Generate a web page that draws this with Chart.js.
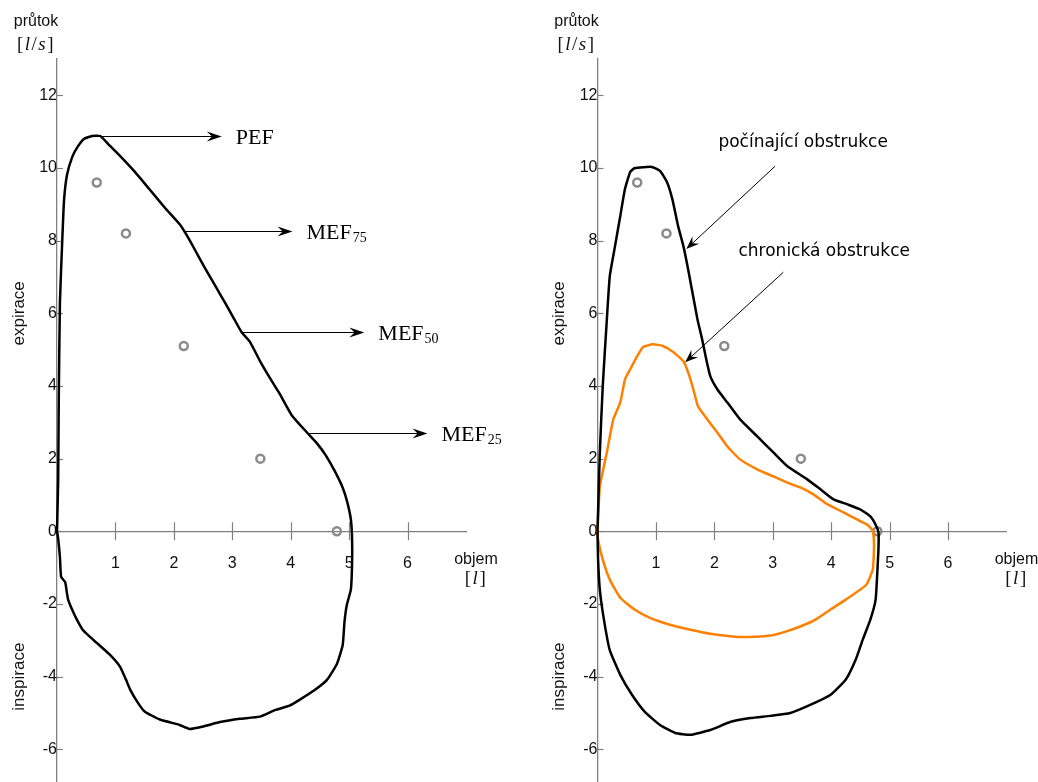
<!DOCTYPE html>
<html><head><meta charset="utf-8">
<script src="https://cdn.jsdelivr.net/npm/chart.js@4/dist/chart.umd.min.js"></script>
<style>
html,body{margin:0;padding:0;background:#fff;}
#wrap{position:relative;width:1038px;height:782px;overflow:hidden;}
canvas{position:absolute;top:0;}
</style></head><body>
<div id="wrap">
<canvas id="c1" width="519" height="782" style="left:0"></canvas>
<canvas id="c2" width="519" height="782" style="left:519px"></canvas>
</div>
<script>
// ---------- data ----------
const xTickValues = [1, 2, 3, 4, 5, 6];
const yTickValues = [-6, -4, -2, 0, 2, 4, 6, 8, 10, 12];

// normal flow-volume loop (left panel)
const normalX = [0,0.02,0.03,0.05,0.09,0.12,0.17,0.26,0.36,0.46,0.6,0.74,0.9,1.07,1.33,1.59,1.85,2.1,2.22,2.36,2.53,2.7,2.87,3.03,3.16,3.3,3.47,3.64,3.81,4.02,4.29,4.45,4.6,4.75,4.89,4.97,5.03,5.05,5.05,5.03,4.96,4.92,4.89,4.79,4.62,4.41,4.15,3.98,3.73,3.47,3.13,2.79,2.53,2.27,2.1,1.76,1.5,1.38,1.25,1.18,1.08,0.9,0.68,0.56,0.44,0.34,0.26,0.19,0.17,0.14,0.07,0.05,0.02,0];
const normalY = [0,1.4,3.6,6.3,8.0,9.1,9.8,10.3,10.6,10.8,10.88,10.88,10.62,10.35,9.9,9.4,8.9,8.45,8.15,7.75,7.25,6.78,6.31,5.85,5.48,5.22,4.7,4.23,3.79,3.19,2.7,2.42,2.09,1.67,1.2,0.79,0.32,-0.2,-0.9,-1.6,-2.03,-2.5,-3.13,-3.65,-4.09,-4.37,-4.64,-4.8,-4.92,-5.1,-5.16,-5.25,-5.36,-5.44,-5.33,-5.18,-4.96,-4.71,-4.35,-4.08,-3.73,-3.39,-3.07,-2.9,-2.71,-2.43,-2.16,-1.88,-1.7,-1.4,-1.25,-0.7,-0.2,0];

// incipient obstruction (right panel, black)
const earlyX = [0,0.04,0.09,0.16,0.21,0.3,0.39,0.47,0.56,0.64,0.93,1.07,1.19,1.28,1.38,1.47,1.55,1.71,1.79,1.86,1.93,2.05,2.22,2.44,2.73,3.01,3.25,3.59,3.82,4.04,4.28,4.5,4.67,4.76,4.81,4.81,4.8,4.76,4.67,4.54,4.42,4.25,3.99,3.64,3.3,2.96,2.62,2.27,1.93,1.59,1.33,1.07,0.81,0.59,0.39,0.21,0.11,0.04,0.01,0];
const earlyY = [0,2.17,4.0,5.83,7.02,7.85,8.68,9.42,9.89,10.0,10.03,9.92,9.61,9.15,8.4,7.85,7.22,5.84,5.29,4.74,4.27,3.91,3.55,3.08,2.62,2.17,1.79,1.43,1.15,0.88,0.74,0.6,0.41,0.18,-0.04,-0.42,-0.78,-1.88,-2.43,-2.98,-3.53,-4.08,-4.5,-4.78,-5.0,-5.08,-5.14,-5.25,-5.47,-5.6,-5.55,-5.33,-4.97,-4.5,-3.95,-3.27,-2.43,-1.61,-0.78,0];

// chronic obstruction (right panel, orange)
const chronicX = [0,0.04,0.16,0.27,0.39,0.47,0.56,0.68,0.78,0.95,1.12,1.3,1.47,1.55,1.64,1.72,1.88,2.05,2.22,2.44,2.74,3.01,3.25,3.48,3.7,3.94,4.21,4.45,4.62,4.71,4.73,4.73,4.71,4.6,4.25,3.99,3.73,3.47,3.22,2.96,2.7,2.36,1.93,1.59,1.24,0.9,0.64,0.39,0.21,0.09,0.01,0];
const chronicY = [0,1.23,2.17,3.08,3.55,4.18,4.46,4.82,5.07,5.15,5.1,4.93,4.68,4.38,3.91,3.44,3.08,2.72,2.34,1.98,1.7,1.51,1.34,1.2,1.01,0.74,0.52,0.32,0.18,0.02,-0.23,-0.59,-1.06,-1.47,-1.88,-2.15,-2.43,-2.62,-2.76,-2.87,-2.9,-2.9,-2.82,-2.71,-2.57,-2.38,-2.16,-1.83,-1.33,-0.78,-0.23,0];

// predicted (reference) values: gray circles
const predX = [0.68, 1.18, 2.17, 3.48, 4.79];
const predY = [9.6, 8.2, 5.1, 2.0, 0];

// left panel annotations (PEF, MEF75, MEF50, MEF25)
const mefNames = ['PEF', 'MEF', 'MEF', 'MEF'];
const mefSubs = ['', '75', '50', '25'];
const mefY = [10.88, 8.26, 5.48, 2.70];
const mefFromX = [0.74, 2.19, 3.16, 4.29];
const mefToX = [2.82, 4.03, 5.26, 6.34];

// right panel annotations
const obstrNames = ['počínající obstrukce', 'chronická obstrukce'];
const obstrTextX = [3.52, 3.88];
const obstrTextY = [10.69, 7.71];
const obstrFromX = [3.04, 3.18];
const obstrFromY = [10.05, 7.13];
const obstrToX = [1.52, 1.50];
const obstrToY = [7.77, 4.65];

// ---------- styling ----------
const AXIS = '#808080';
const SANS = '"Liberation Sans", Arial, sans-serif';
const SERIF = '"Liberation Serif", "Times New Roman", serif';
const ANNOT = '"DejaVu Sans", Verdana, sans-serif';

function pts(xs, ys) { return xs.map((x, i) => ({x: x, y: ys[i]})); }

function loopDs(xs, ys, color) {
  return {data: pts(xs, ys), showLine: true, borderColor: color, borderWidth: 2.5,
    pointRadius: 0, tension: 0.15, fill: false, clip: false};
}
function predDs() {
  return {data: pts(predX, predY), showLine: false, pointRadius: 4, pointBorderWidth: 2.5,
    pointBorderColor: '#8a8a8a', pointBackgroundColor: 'rgba(255,255,255,0)', clip: false};
}

function arrowHead(ctx, tx, ty, ang, L, W) {
  const dx = Math.cos(ang), dy = Math.sin(ang);
  const px = -dy, py = dx;
  ctx.beginPath();
  ctx.moveTo(tx, ty);
  ctx.lineTo(tx - L * dx + W * px, ty - L * dy + W * py);
  ctx.lineTo(tx - 0.65 * L * dx, ty - 0.65 * L * dy);
  ctx.lineTo(tx - L * dx - W * px, ty - L * dy - W * py);
  ctx.closePath();
  ctx.fill();
}

function drawMath(ctx, parts, cx, cy, size) {
  let total = 0;
  const widths = parts.map(p => {
    ctx.font = (p[1] ? 'italic ' : '') + size + 'px ' + SERIF;
    const w = ctx.measureText(p[0]).width + 1.5;
    total += w; return w;
  });
  let x = cx - total / 2;
  ctx.textAlign = 'left'; ctx.textBaseline = 'middle';
  parts.forEach((p, i) => {
    ctx.font = (p[1] ? 'italic ' : '') + size + 'px ' + SERIF;
    ctx.fillText(p[0], x, cy);
    x += widths[i];
  });
}

function axisDecor(chart, ctx) {
  const xs = chart.scales.x, ys = chart.scales.y;
  const x0 = xs.getPixelForValue(0), y0 = ys.getPixelForValue(0);
  ctx.save();
  ctx.strokeStyle = AXIS; ctx.lineWidth = 1.2;
  xs.ticks.forEach(t => {
    const px = Math.round(xs.getPixelForValue(t.value)) + 0.5;
    ctx.beginPath(); ctx.moveTo(px, y0 - 9); ctx.lineTo(px, y0 + 9); ctx.stroke();
  });
  ys.ticks.forEach(t => {
    const py = Math.round(ys.getPixelForValue(t.value)) + 0.5;
    ctx.beginPath(); ctx.moveTo(x0, py); ctx.lineTo(x0 + 6, py); ctx.stroke();
  });
  ctx.fillStyle = '#111';
  ctx.textAlign = 'center'; ctx.textBaseline = 'middle';
  ctx.font = '16px ' + SANS;
  ctx.fillText('průtok', x0 - 21, 22);
  drawMath(ctx, [['[', false], ['l', true], ['/', false], ['s', true], [']', false]], x0 - 21, 45, 19);
  const xr = xs.getPixelForValue(7);
  ctx.textAlign = 'center'; ctx.textBaseline = 'middle';
  ctx.font = '16px ' + SANS;
  ctx.fillText('objem', xr + 10, 560);
  drawMath(ctx, [['[', false], ['l', true], [']', false]], xr + 10, 579, 19);
  // rotated titles
  ctx.font = '17px ' + SANS;
  ctx.textAlign = 'center'; ctx.textBaseline = 'middle';
  [['expirace', ys.getPixelForValue(6)], ['inspirace', ys.getPixelForValue(-4)]].forEach(a => {
    ctx.save();
    ctx.translate(x0 - 38, a[1]);
    ctx.rotate(-Math.PI / 2);
    ctx.fillText(a[0], 0, 0);
    ctx.restore();
  });
  ctx.restore();
}

const decorLeft = {
  id: 'decorLeft',
  beforeDatasetsDraw(chart) { axisDecor(chart, chart.ctx); },
  afterDatasetsDraw(chart) {
    const ctx = chart.ctx, xs = chart.scales.x, ys = chart.scales.y;
    ctx.save();
    ctx.strokeStyle = '#000'; ctx.fillStyle = '#000'; ctx.lineWidth = 1.2;
    mefNames.forEach((n, i) => {
      const py = Math.round(ys.getPixelForValue(mefY[i])) + 0.5;
      const a = xs.getPixelForValue(mefFromX[i]), b = xs.getPixelForValue(mefToX[i]);
      ctx.beginPath(); ctx.moveTo(a, py); ctx.lineTo(b - 8, py); ctx.stroke();
      arrowHead(ctx, b, py, 0, 15, 5);
      ctx.textAlign = 'left'; ctx.textBaseline = 'alphabetic';
      ctx.font = '22px ' + SERIF;
      const tx = b + 14;
      ctx.fillText(n, tx, py + 7.5);
      if (mefSubs[i]) {
        const w = ctx.measureText(n).width;
        ctx.font = '14px ' + SERIF;
        ctx.fillText(mefSubs[i], tx + w + 1, py + 10.5);
      }
    });
    ctx.restore();
  }
};

const decorRight = {
  id: 'decorRight',
  beforeDatasetsDraw(chart) { axisDecor(chart, chart.ctx); },
  afterDatasetsDraw(chart) {
    const ctx = chart.ctx, xs = chart.scales.x, ys = chart.scales.y;
    ctx.save();
    ctx.strokeStyle = '#000'; ctx.fillStyle = '#000'; ctx.lineWidth = 1;
    obstrNames.forEach((n, i) => {
      const ax = xs.getPixelForValue(obstrFromX[i]), ay = ys.getPixelForValue(obstrFromY[i]);
      const bx = xs.getPixelForValue(obstrToX[i]), by = ys.getPixelForValue(obstrToY[i]);
      const ang = Math.atan2(by - ay, bx - ax);
      ctx.beginPath(); ctx.moveTo(ax, ay);
      ctx.lineTo(bx - 8 * Math.cos(ang), by - 8 * Math.sin(ang)); ctx.stroke();
      arrowHead(ctx, bx, by, ang, 13, 5);
      ctx.font = '17px ' + ANNOT;
      ctx.textAlign = 'center'; ctx.textBaseline = 'middle';
      ctx.fillText(n, xs.getPixelForValue(obstrTextX[i]), ys.getPixelForValue(obstrTextY[i]));
    });
    ctx.restore();
  }
};

function noPad(s) { s.paddingTop = 0; s.paddingBottom = 0; s.paddingLeft = 0; s.paddingRight = 0; }

function options(padL, padR) {
  return {
    responsive: false, animation: false, events: [],
    layout: {autoPadding: false, padding: {left: padL, right: padR, top: 59, bottom: 0}},
    plugins: {legend: {display: false}, tooltip: {enabled: false}},
    scales: {
      x: {type: 'linear', min: 0, max: 7, position: {y: 0},
        afterBuildTicks: s => { s.ticks = xTickValues.map(v => ({value: v})); },
        afterFit: s => { s.height = 0; noPad(s); },
        grid: {display: true, drawOnChartArea: false, drawTicks: false},
        border: {display: true, color: AXIS, width: 1.3},
        ticks: {padding: 23, color: '#111', font: {family: SANS, size: 16}, maxRotation: 0, autoSkip: false}},
      y: {type: 'linear', min: -6.9, max: 13, position: {x: 0},
        afterBuildTicks: s => { s.ticks = yTickValues.map(v => ({value: v})); },
        afterFit: s => { s.width = 0; noPad(s); },
        grid: {display: true, drawOnChartArea: false, drawTicks: false},
        border: {display: true, color: AXIS, width: 1.3},
        ticks: {padding: 5, color: '#111', font: {family: SANS, size: 16}, autoSkip: false}}
    }
  };
}

new Chart(document.getElementById('c1'), {
  type: 'scatter',
  data: {datasets: [loopDs(normalX, normalY, '#000'), predDs()]},
  options: options(57, 53),
  plugins: [decorLeft]
});

new Chart(document.getElementById('c2'), {
  type: 'scatter',
  data: {datasets: [loopDs(earlyX, earlyY, '#000'), loopDs(chronicX, chronicY, '#ff8000'), predDs()]},
  options: options(78.5, 31.5),
  plugins: [decorRight]
});
</script>
</body></html>
